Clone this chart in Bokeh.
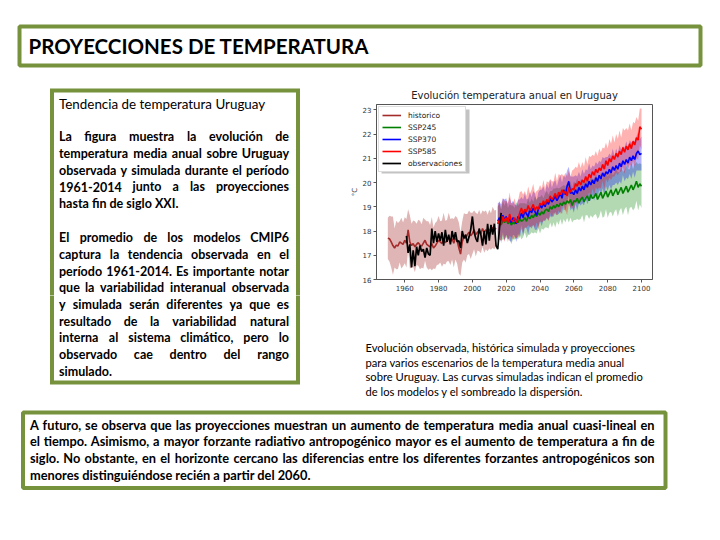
import unicodedata
from bokeh.plotting import figure
from bokeh.models import Range1d, FixedTicker, Legend, LegendItem, BoxAnnotation
from bokeh.layouts import row, column
from bokeh.embed import file_html
from bokeh.resources import INLINE
from bokeh.core.properties import value

# ---------------- data ----------------
hist_start = 1950
hist_mean = [
    17.70, 17.68, 17.55, 17.40, 17.30, 17.42, 17.38, 17.55, 17.50, 17.45,
    17.62, 17.50, 18.05, 17.55, 17.40, 17.48, 17.35, 17.45, 17.52, 17.42,
    17.38, 17.50, 17.62, 17.45, 17.40, 17.35, 17.48, 17.30, 17.38, 17.50,
    17.62, 17.55, 17.48, 17.70, 17.52, 17.60, 17.75, 17.55, 17.68, 17.50,
    17.72, 17.60, 17.30, 17.05, 17.55, 17.78, 17.70, 17.85, 17.95, 17.80,
    17.90, 18.05, 17.85, 17.95, 18.02, 17.88, 18.10, 17.95, 18.05, 17.92,
    18.08, 17.98, 18.15, 18.05, 18.12,
]
hist_spread = [
    0.85, 0.95, 1.05, 1.20, 0.80, 1.00, 0.95, 0.85, 1.05, 0.90,
    0.95, 1.00, 0.85, 1.10, 0.90, 0.95, 1.05, 0.85, 0.95, 1.00,
    0.90, 1.05, 0.85, 0.95, 1.00, 0.90, 1.10, 0.85, 0.95, 0.90,
    1.00, 0.85, 0.95, 1.05, 0.90, 0.85, 1.00, 0.95, 0.85, 1.00,
    0.90, 0.95, 1.05, 0.90, 0.85, 0.95, 1.00, 0.85, 0.90, 0.95,
    0.85, 0.80, 0.90, 0.75, 0.85, 0.80, 0.75, 0.85, 0.80, 0.75,
    0.80, 0.75, 0.85, 0.80, 0.75,
]
obs_start = 1961
obs = [
    17.80, 17.10, 17.45, 16.50, 17.20, 16.55, 17.35, 17.00, 17.40, 17.15,
    17.25, 16.90, 17.30, 17.05, 17.00, 18.10, 17.50, 18.00, 17.55, 17.90,
    17.60, 17.95, 17.40, 18.05, 17.55, 17.85, 17.45, 18.00, 17.65, 17.95,
    17.55, 17.60, 17.30, 18.00, 17.70, 17.85, 17.50, 17.75, 18.05, 18.60,
    17.95, 17.70, 17.55, 18.10, 17.85, 17.40, 18.00, 17.45, 18.30, 17.60,
    18.25, 17.85, 18.30, 17.40, 17.25, 18.10, 18.75,
]
scen_start = 2015
ssp245 = [
    18.30, 18.40, 18.25, 18.45, 18.35, 18.50, 18.30, 18.40, 18.25, 18.35,
    18.30, 18.45, 18.35, 18.50, 18.40, 18.45, 18.55, 18.40, 18.60, 18.50,
    18.65, 18.55, 18.70, 18.60, 18.75, 18.65, 18.80, 18.70, 18.85, 18.90,
    18.80, 19.00, 18.90, 19.05, 18.95, 19.10, 19.00, 19.15, 19.05, 19.20,
    19.10, 19.25, 19.15, 19.30, 19.05, 19.25, 19.20, 19.35, 19.15, 19.30,
    19.40, 19.20, 19.35, 19.45, 19.25, 19.50, 19.35, 19.40, 19.55, 19.30,
    19.45, 19.60, 19.35, 19.50, 19.65, 19.40, 19.55, 19.70, 19.45, 19.60,
    19.75, 19.50, 19.65, 19.80, 19.55, 19.70, 19.85, 19.60, 19.75, 19.90,
    19.70, 19.85, 20.05, 19.80, 19.95, 19.85,
]
ssp245_spread = [
    0.70, 0.75, 0.65, 0.80, 0.70, 0.75, 0.65, 0.70, 0.80, 0.70,
    0.65, 0.75, 0.70, 0.65, 0.75, 0.70, 0.60, 0.70, 0.75, 0.65,
    0.70, 0.65, 0.75, 0.70, 0.65, 0.75, 0.70, 0.65, 0.70, 0.75,
    0.70, 0.65, 0.75, 0.70, 0.80, 0.70, 0.75, 0.65, 0.80, 0.70,
    0.75, 0.70, 0.80, 0.75, 0.70, 0.80, 0.75, 0.85, 0.70, 0.80,
    0.75, 0.85, 0.70, 0.80, 0.75, 0.85, 0.80, 0.75, 0.85, 0.80,
    0.85, 0.75, 0.80, 0.90, 0.75, 0.85, 0.80, 0.90, 0.85, 0.80,
    0.85, 0.90, 0.80, 0.85, 0.90, 0.80, 0.85, 0.95, 0.80, 0.90,
    0.85, 0.90, 0.80, 0.95, 0.85, 0.90,
]
ssp370 = [
    18.40, 18.55, 18.30, 18.65, 18.45, 18.60, 18.40, 18.50, 18.35, 18.55,
    18.45, 18.30, 18.60, 18.50, 18.75, 18.55, 18.85, 18.70, 18.60, 18.90,
    18.75, 18.95, 18.80, 18.65, 18.90, 19.05, 18.95, 19.15, 19.00, 19.25,
    19.10, 19.35, 19.20, 19.30, 19.45, 19.25, 19.40, 19.55, 19.35, 19.70,
    19.50, 19.85, 20.05, 19.55, 19.60, 19.50, 19.70, 19.55, 19.80, 19.65,
    19.85, 19.70, 19.95, 19.80, 20.05, 19.90, 20.10, 19.95, 20.20, 20.05,
    20.30, 20.15, 20.40, 20.25, 20.45, 20.35, 20.55, 20.40, 20.65, 20.50,
    20.70, 20.55, 20.80, 20.65, 20.90, 20.75, 20.95, 20.80, 21.05, 20.90,
    21.10, 20.95, 21.20, 21.30, 21.15, 21.20,
]
ssp370_spread = [
    0.75, 0.65, 0.80, 0.70, 0.85, 0.75, 0.70, 0.90, 0.80, 0.70,
    0.65, 0.75, 0.70, 0.80, 0.65, 0.75, 0.70, 0.60, 0.75, 0.70,
    0.65, 0.70, 0.75, 0.60, 0.70, 0.65, 0.75, 0.70, 0.60, 0.70,
    0.65, 0.75, 0.60, 0.70, 0.65, 0.60, 0.70, 0.75, 0.65, 0.60,
    0.70, 0.65, 0.60, 0.70, 0.65, 0.75, 0.60, 0.70, 0.65, 0.60,
    0.70, 0.65, 0.60, 0.70, 0.75, 0.65, 0.60, 0.70, 0.65, 0.70,
    0.60, 0.70, 0.65, 0.75, 0.60, 0.70, 0.65, 0.70, 0.75, 0.60,
    0.70, 0.65, 0.75, 0.70, 0.60, 0.70, 0.75, 0.65, 0.70, 0.75,
    0.65, 0.75, 0.70, 0.80, 0.65, 0.70,
]
ssp585 = [
    18.30, 18.45, 18.25, 18.60, 18.40, 18.55, 18.35, 18.70, 18.45, 18.40,
    18.55, 18.35, 18.50, 18.75, 18.95, 18.70, 18.90, 18.80, 19.05, 18.85,
    18.95, 19.10, 18.85, 19.00, 18.90, 19.15, 19.05, 19.25, 19.10, 19.30,
    19.20, 19.45, 19.30, 19.40, 19.55, 19.35, 19.60, 19.50, 19.70, 19.55,
    19.65, 19.45, 19.80, 19.60, 19.75, 19.70, 19.95, 19.85, 20.05, 19.90,
    20.10, 20.00, 20.25, 20.05, 20.35, 20.20, 20.45, 20.30, 20.55, 20.40,
    20.60, 20.50, 20.75, 20.55, 20.90, 20.70, 21.00, 20.85, 21.10, 20.95,
    21.20, 21.05, 21.30, 21.15, 21.45, 21.25, 21.50, 21.35, 21.60, 21.40,
    21.70, 21.55, 21.85, 21.75, 22.30, 22.20,
]
ssp585_spread = [
    0.70, 0.80, 0.65, 0.75, 0.85, 0.70, 0.80, 0.90, 0.70, 0.75,
    0.80, 0.65, 0.75, 0.85, 0.70, 0.80, 0.75, 0.65, 0.80, 0.70,
    0.75, 0.85, 0.70, 0.65, 0.80, 0.75, 0.70, 0.85, 0.65, 0.75,
    0.80, 0.70, 0.75, 0.65, 0.85, 0.70, 0.75, 0.80, 0.65, 0.70,
    0.75, 0.80, 0.70, 0.65, 0.75, 0.85, 0.70, 0.75, 0.80, 0.70,
    0.75, 0.65, 0.80, 0.70, 0.75, 0.85, 0.70, 0.80, 0.75, 0.70,
    0.80, 0.75, 0.70, 0.85, 0.75, 0.70, 0.80, 0.75, 0.85, 0.70,
    0.80, 0.75, 0.85, 0.70, 0.80, 0.90, 0.75, 0.80, 0.85, 0.75,
    0.80, 0.90, 0.85, 0.80, 0.75, 0.85,
]
x_ticks = [1960, 1980, 2000, 2020, 2040, 2060, 2080, 2100]
y_ticks = [16, 17, 18, 19, 20, 21, 22, 23]
series_labels = ["historico", "SSP245", "SSP370", "SSP585", "observaciones"]

page_title = "PROYECCIONES DE TEMPERATURA"
chart_title = "Evolución temperatura anual en Uruguay"
left_heading = "Tendencia de temperatura Uruguay"
left_par1 = [
    "La figura muestra la evolución de",
    "temperatura media anual sobre Uruguay",
    "observada y simulada durante el período",
    "1961-2014 junto a las proyecciones",
    "hasta fin de siglo XXI.",
]
left_par2 = [
    "El promedio de los modelos CMIP6",
    "captura la tendencia observada en el",
    "período 1961-2014. Es importante notar",
    "que la variabilidad interanual observada",
    "y simulada serán diferentes ya que es",
    "resultado de la variabilidad natural",
    "interna al sistema climático, pero lo",
    "observado cae dentro del rango",
    "simulado.",
]
caption_lines = [
    "Evolución observada, histórica simulada y proyecciones",
    "para varios escenarios de la temperatura media anual",
    "sobre Uruguay.  Las curvas simuladas indican el promedio",
    "de los modelos y el sombreado la dispersión.",
]
bottom_lines = [
    "A futuro, se observa que las proyecciones muestran un aumento de temperatura media anual cuasi-lineal en",
    "el tiempo. Asimismo, a mayor forzante radiativo antropogénico mayor es el aumento de temperatura a fin de",
    "siglo. No obstante, en el horizonte cercano las diferencias entre los diferentes forzantes antropogénicos son",
    "menores distinguiéndose recién a partir del 2060.",
]

# ---------------- helpers ----------------
GREEN = "#76923C"
FONT = "Lato"
SPLIT_Y = 295  # boundary between the middle row and the lower canvas

CW = dict(zip("abcdefghijklmnopqrstuvwxyz",
              [.52, .57, .46, .57, .53, .33, .51, .57, .26, .26, .53, .26, .86,
               .57, .57, .57, .57, .38, .43, .36, .57, .52, .79, .51, .52, .46]))
CW.update(dict(zip("ABCDEFGHIJKLMNOPQRSTUVWXYZ",
                   [.68, .66, .66, .74, .56, .54, .72, .76, .29, .40, .68, .50, .90,
                    .76, .78, .63, .78, .65, .52, .58, .72, .68, 1.0, .67, .62, .62])))
CW.update({d: .58 for d in "0123456789"})
CW.update({" ": .26, ",": .24, ".": .24, "-": .36, "(": .32, ")": .32})


def est_width(s, size):
    tot = 0.0
    for ch in s:
        base = unicodedata.normalize("NFD", ch)[0]
        tot += CW.get(base, .55)
    return tot * size


def canvas(x0, y0, w, h):
    p = figure(width=w, height=h, x_range=Range1d(x0, x0 + w), y_range=Range1d(y0 + h, y0),
               output_backend="svg", toolbar_location=None, min_border=0,
               x_axis_type=None, y_axis_type=None, frame_align=False)
    p.outline_line_color = None
    p.background_fill_color = "white"
    p.border_fill_color = "white"
    return p


def draw_line(p, txt, x0, x1, y, size, style, justify):
    kw = dict(text_font=value(FONT), text_font_size=f"{size}px", text_font_style=style,
              text_baseline="middle", text_color="#000000")
    words = txt.split()
    if not justify or len(words) < 2:
        p.text(x=[x0], y=[y], text=[txt], text_align="left", **kw)
        return
    widths = [est_width(w_, size) for w_ in words]
    gap = (x1 - x0 - sum(widths)) / (len(words) - 1)
    cx, mids, mid_txt = x0, [], []
    for i, (w_, wd) in enumerate(zip(words, widths)):
        if 0 < i < len(words) - 1:
            mids.append(cx + wd / 2)
            mid_txt.append(w_)
        cx += wd + gap
    p.text(x=[x0], y=[y], text=[words[0]], text_align="left", **kw)
    p.text(x=[x1], y=[y], text=[words[-1]], text_align="right", **kw)
    if mids:
        p.text(x=mids, y=[y] * len(mids), text=mid_txt, text_align="center", **kw)


# ---------------- top: title box ----------------
top = canvas(0, 0, 712, 80)
top.quad(left=[19], right=[700], top=[26], bottom=[65], fill_color=None,
         line_color=GREEN, line_width=4)
top.text(x=[28], y=[45.5], text=[page_title], text_font=value(FONT), text_font_size="20.5px",
         text_font_style="bold", text_baseline="middle", text_align="left", text_color="#000000")

# ---------------- middle left canvas + lower canvas ----------------
left = canvas(0, 80, 340, SPLIT_Y - 80)
low = canvas(0, SPLIT_Y, 712, 500 - SPLIT_Y)

BL, BR, BT, BB = 51.5, 297.5, 90, 382
left.line(x=[BL, BL, BR, BR], y=[SPLIT_Y + 10, BT, BT, SPLIT_Y + 10], line_color=GREEN,
          line_width=4, line_join="miter")
low.line(x=[BL, BL, BR, BR], y=[SPLIT_Y - 10, BB, BB, SPLIT_Y - 10], line_color=GREEN,
         line_width=4, line_join="miter")

draw_line(left, left_heading, 58.5, 288.5, 103, 13.4, "normal", False)
text_rows = []
for i, ln in enumerate(left_par1):
    text_rows.append((ln, 136 + i * 16.8, i < len(left_par1) - 1))
for i, ln in enumerate(left_par2):
    text_rows.append((ln, 237.3 + i * 16.65, i < len(left_par2) - 1))
for ln, y, just in text_rows:
    draw_line(left if y < SPLIT_Y else low, ln, 58.5, 288.5, y, 12.5, "bold", just)

# caption
for i, ln in enumerate(caption_lines):
    draw_line(low, ln, 365, 660, 347 + i * 14.7, 11.2, "normal", False)

# bottom box
low.quad(left=[22.5], right=[665], top=[412], bottom=[487.5], fill_color=None,
         line_color=GREEN, line_width=4)
for i, ln in enumerate(bottom_lines):
    draw_line(low, ln, 29.5, 654, 424 + i * 16.7, 12.8, "bold", i < len(bottom_lines) - 1)

# ---------------- chart ----------------
p = figure(width=372, height=SPLIT_Y - 80, x_range=Range1d(1943.3, 2106.5),
           y_range=Range1d(16, 23.22), output_backend="svg", toolbar_location=None,
           min_border_left=36, min_border_right=60, min_border_top=24,
           min_border_bottom=SPLIT_Y - 279, frame_align=False)
p.title.text = chart_title
p.title.align = "center"
p.title.text_font = "DejaVu Sans"
p.title.text_font_size = "10px"
p.title.text_font_style = "normal"
p.title.text_color = "#222222"
p.title.standoff = 8
p.grid.visible = False
p.outline_line_color = "#555555"
for ax in (p.xaxis[0], p.yaxis[0]):
    ax.axis_line_color = "#555555"
    ax.major_tick_line_color = "#555555"
    ax.major_tick_out = 3
    ax.major_tick_in = 0
    ax.minor_tick_line_color = None
    ax.major_label_text_font = "DejaVu Sans"
    ax.major_label_text_font_size = "7px"
    ax.major_label_text_color = "#333333"
    ax.major_label_standoff = 2
p.xaxis.ticker = FixedTicker(ticks=x_ticks)
p.yaxis.ticker = FixedTicker(ticks=y_ticks)
p.yaxis.axis_label = "°C"
p.yaxis.axis_label_text_font = "DejaVu Sans"
p.yaxis.axis_label_text_font_size = "7px"
p.yaxis.axis_label_text_font_style = "normal"
p.yaxis.axis_label_text_color = "#333333"
p.yaxis.axis_label_standoff = 1

hist_years = list(range(hist_start, hist_start + len(hist_mean)))
obs_years = list(range(obs_start, obs_start + len(obs)))
scen_years = list(range(scen_start, scen_start + len(ssp585)))

bands = [
    (hist_years, hist_mean, hist_spread, "#a52a2a", 0.35),
    (scen_years, ssp245, ssp245_spread, "#008000", 0.3),
    (scen_years, ssp370, ssp370_spread, "#0000ff", 0.3),
    (scen_years, ssp585, ssp585_spread, "#ff0000", 0.3),
]
for yrs, m, s, col, alpha in bands:
    p.varea(x=yrs, y1=[a - b for a, b in zip(m, s)], y2=[a + b for a, b in zip(m, s)],
            fill_color=col, fill_alpha=alpha)

renderers = []
for yrs, m, s, col, alpha in bands:
    renderers.append(p.line(yrs, m, line_color=col, line_width=1.6))
renderers.append(p.line(obs_years, obs, line_color="#000000", line_width=1.7))

# legend drop shadow (like matplotlib's shadow=True)
p.add_layout(BoxAnnotation(left=1946.3, right=1998.3, top=23.01, bottom=20.37,
                           fill_color="#888888", fill_alpha=0.5, line_color=None))
legend = Legend(items=[LegendItem(label=lab, renderers=[r]) for lab, r in zip(series_labels, renderers)],
                location="top_left", margin=2, padding=3, spacing=2,
                glyph_width=19, glyph_height=10, label_height=10, label_standoff=7,
                label_text_font="DejaVu Sans", label_text_font_size="7.5px",
                label_text_color="#222222", border_line_color="#bbbbbb",
                background_fill_alpha=1.0)
p.add_layout(legend)

layout = column(top, row(left, p), low)
open("out.html", "w").write(file_html(layout, INLINE))
